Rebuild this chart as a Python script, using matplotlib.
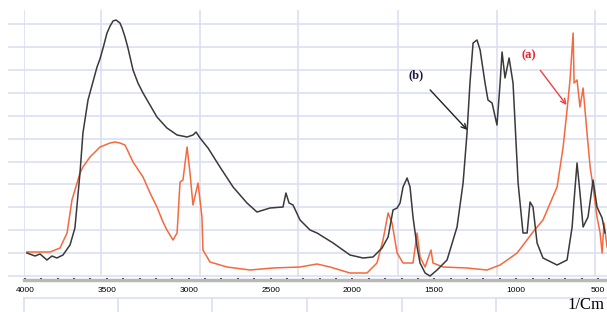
import numpy as np
import matplotlib
matplotlib.use("Agg")
import matplotlib.pyplot as plt
from matplotlib.lines import Line2D

# FTIR spectra, wavenumber (1/cm) vs arbitrary transmittance
wn_b = [3988, 3939, 3908, 3866, 3835, 3805, 3768, 3725, 3695, 3664, 3646, 3615,
        3560, 3542, 3523, 3499, 3480, 3462, 3444, 3420, 3407, 3389, 3371, 3340,
        3310, 3279, 3194, 3133, 3071, 3010, 2974,
        2955, 2931, 2882, 2809, 2729, 2644, 2583, 2503, 2424, 2406, 2387, 2363,
        2320, 2259, 2216, 2118, 2015, 1935, 1874, 1819, 1782, 1752, 1727, 1709,
        1691, 1666, 1648, 1630, 1605, 1587, 1556, 1526, 1483, 1422, 1361, 1324,
        1300, 1282, 1263, 1239, 1220, 1190, 1172, 1147, 1117, 1098, 1086, 1068,
        1043, 1019, 988, 958, 933, 915, 897, 872, 836, 750, 689, 658, 646, 628,
        610, 591, 561, 530, 506, 475, 457]
val_b = [27, 24, 26, 20, 24, 22, 25, 35, 52, 107, 147, 180,
         213, 221, 232, 247, 254, 259, 260, 257, 252, 243, 232, 210,
         197, 187, 163, 152, 145, 143, 145,
         148, 142, 132, 113, 93, 77, 68, 72, 73, 87, 77, 75,
         60, 50, 47, 37, 25, 22, 23, 32, 43, 70, 72, 77,
         93, 102, 93, 63, 33, 17, 7, 4, 10, 20, 53, 97,
         147, 197, 237, 240, 230, 197, 180, 177, 155, 197, 228, 202,
         222, 197, 97, 47, 47, 78, 73, 37, 22, 15, 20, 53, 80, 117,
         87, 53, 63, 100, 73, 62, 47]

wn_a = [3988, 3847, 3786, 3743, 3713, 3664, 3646, 3603, 3572, 3542, 3511, 3481,
        3450, 3420, 3389, 3340, 3279, 3236, 3194, 3157, 3133, 3096, 3071, 3053,
        3035, 3010, 2992, 2974, 2943, 2919,
        2913, 2870, 2766, 2625, 2485, 2320, 2216, 2137, 2015, 1911, 1850, 1813,
        1782, 1758, 1727, 1691, 1630, 1605, 1587, 1556, 1520, 1508, 1446, 1300,
        1178, 1098, 994, 897, 836, 750, 713, 689, 671, 652, 646, 628, 610, 591,
        567, 548, 530, 506, 487, 475, 463, 445]
val_a = [28, 28, 32, 47, 80, 107, 113, 123, 128, 133, 135, 137,
         138, 137, 135, 118, 103, 87, 73, 58, 50, 40, 47, 98,
         100, 133, 107, 75, 97, 63,
         30, 18, 13, 10, 12, 13, 16, 13, 7, 7, 17, 40,
         67, 57, 27, 17, 17, 47, 23, 13, 30, 17, 13, 12,
         10, 15, 27, 48, 60, 93, 133, 170, 200, 247, 197, 200, 173, 192,
         147, 113, 93, 63, 47, 27, 57, 33]

xticks = [4000, 3500, 3000, 2500, 2000, 1500, 1000, 500]

grid_c = "#dcdff0"
col_b = "#3a3a3a"
col_a = "#f5693f"

W, H = 607, 312
fig = plt.figure(figsize=(W / 100, H / 100), dpi=100)
ax = fig.add_axes([24 / W, (H - 280) / H, 583 / W, 270 / H])
ax.set_xlim(4006, 445)
ax.set_ylim(0, 270)

# horizontal grid, extended to the left as little tick stubs
for k in range(12):
    ax.axhline(4 + 22.9 * k, xmin=-0.026, xmax=1, color=grid_c, lw=1.2,
               clip_on=False, zorder=0)
# vertical grid (not aligned with the tick labels in the original)
for px in [24, 101, 200, 298, 398, 497, 595]:
    ax.axvline(4000 - (px - 25) * 6.109, ymin=0.015, ymax=1, color=grid_c,
               lw=1.2, zorder=0)

ax.plot(wn_a, val_a, color=col_a, lw=1.1, zorder=3)
ax.plot(wn_b, val_b, color=col_b, lw=1.1, zorder=4)

ax.annotate("(b)", xy=(1298, 150), xytext=(1610, 205), color="#1a1a3a",
            fontsize=9, fontweight="bold", family="Liberation Serif",
            ha="center", va="center",
            arrowprops=dict(arrowstyle="->", color="#222222", lw=1.0,
                            shrinkA=6, shrinkB=0))
ax.annotate("(a)", xy=(692, 175), xytext=(923, 225), color="#e8202a",
            fontsize=9, fontweight="bold", family="Liberation Serif",
            ha="center", va="center",
            arrowprops=dict(arrowstyle="->", color="#f04040", lw=1.0,
                            shrinkA=6, shrinkB=0))

for s in ["top", "right", "left"]:
    ax.spines[s].set_visible(False)
ax.spines["bottom"].set_color("#b8b8b8")
ax.spines["bottom"].set_linewidth(2.5)
ax.set_yticks([])
ax.set_xticks(xticks)
ax.set_xticklabels([str(t) for t in xticks], fontsize=6,
                   family="Liberation Sans")
ax.set_xticks(np.arange(4000, 440, -100), minor=True)
ax.tick_params(axis="x", which="both", direction="inout", length=2.5,
               width=1.3, color="#202020", pad=4)

# lower table lines under the axis
fig.add_artist(Line2D([24 / W, 1], [1 - 298 / H] * 2, color=grid_c, lw=1.2))
for px in [24, 118, 212, 307, 402, 496]:
    fig.add_artist(Line2D([px / W] * 2, [0, 1 - 298 / H], color=grid_c, lw=1.2))

fig.text(586 / W, 1 - 305 / H, "1/Cm", fontsize=12, family="Liberation Serif",
         ha="center", va="center")

fig.savefig("out.png", dpi=100)
